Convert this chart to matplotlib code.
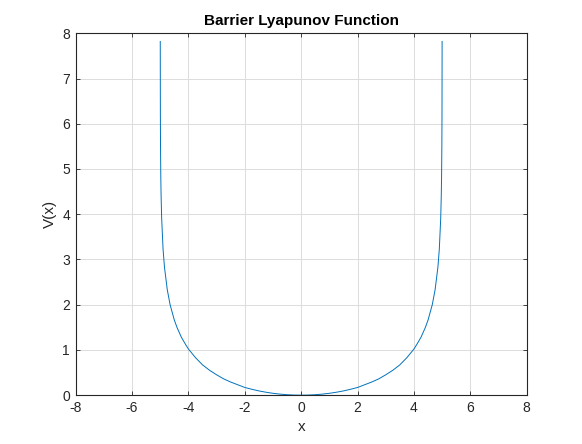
import matplotlib
matplotlib.use("Agg")
import matplotlib.pyplot as plt

# values
x = [-4.999, -4.995, -4.99, -4.98, -4.97, -4.95, -4.9, -4.85, -4.75, -4.65,
     -4.5, -4.4, -4.25, -4.1, -4.0, -3.75, -3.5, -3.25, -3.0, -2.75, -2.5,
     -2.25, -2.0, -1.75, -1.5, -1.25, -1.0, -0.75, -0.5, -0.25, 0.0,
     0.25, 0.5, 0.75, 1.0, 1.25, 1.5, 1.75, 2.0, 2.25, 2.5, 2.75, 3.0,
     3.25, 3.5, 3.75, 4.0, 4.1, 4.25, 4.4, 4.5, 4.65, 4.75, 4.85, 4.9,
     4.95, 4.97, 4.98, 4.99, 4.995, 4.999]
V = [7.82, 6.21, 5.52, 4.83, 4.43, 3.92, 3.23, 2.83, 2.33, 2.00,
     1.66, 1.49, 1.28, 1.12, 1.02, 0.83, 0.67, 0.55, 0.45, 0.36, 0.29,
     0.23, 0.17, 0.13, 0.094, 0.065, 0.041, 0.023, 0.010, 0.0025, 0.0,
     0.0025, 0.010, 0.023, 0.041, 0.065, 0.094, 0.13, 0.17, 0.23, 0.29,
     0.36, 0.45, 0.55, 0.67, 0.83, 1.02, 1.12, 1.28, 1.49, 1.66, 2.00,
     2.33, 2.83, 3.23, 3.92, 4.43, 4.83, 5.52, 6.21, 7.82]

xticks = [-8, -6, -4, -2, 0, 2, 4, 6, 8]
yticks = [0, 1, 2, 3, 4, 5, 6, 7, 8]

plt.rcParams.update({
    "font.family": ["Liberation Sans", "DejaVu Sans"],
    "font.size": 10,
    "axes.unicode_minus": False,
})

fig = plt.figure(figsize=(5.82, 4.44), dpi=100)
ax = fig.add_axes([0.13, 0.11, 0.775, 0.815])
ax.plot(x, V, color="#0072BD", lw=0.7)
ax.set_xlim(-8, 8)
ax.set_ylim(0, 8)
ax.set_xticks(xticks)
ax.set_yticks(yticks)
ax.grid(True, color="#dcdcdc", lw=0.7)
ax.set_axisbelow(True)
ax.tick_params(direction="in", length=3, width=0.6, top=True, right=True,
               colors="#262626", labelsize=10, pad=4)
for s in ax.spines.values():
    s.set_linewidth(0.8)
    s.set_color("#262626")
ax.set_xlabel("x", fontsize=11, color="#262626")
ax.set_ylabel("V(x)", fontsize=11, color="#262626")
ax.set_title("Barrier Lyapunov Function", fontsize=11, fontweight="bold", pad=6)
fig.savefig("out.png", dpi=100)
